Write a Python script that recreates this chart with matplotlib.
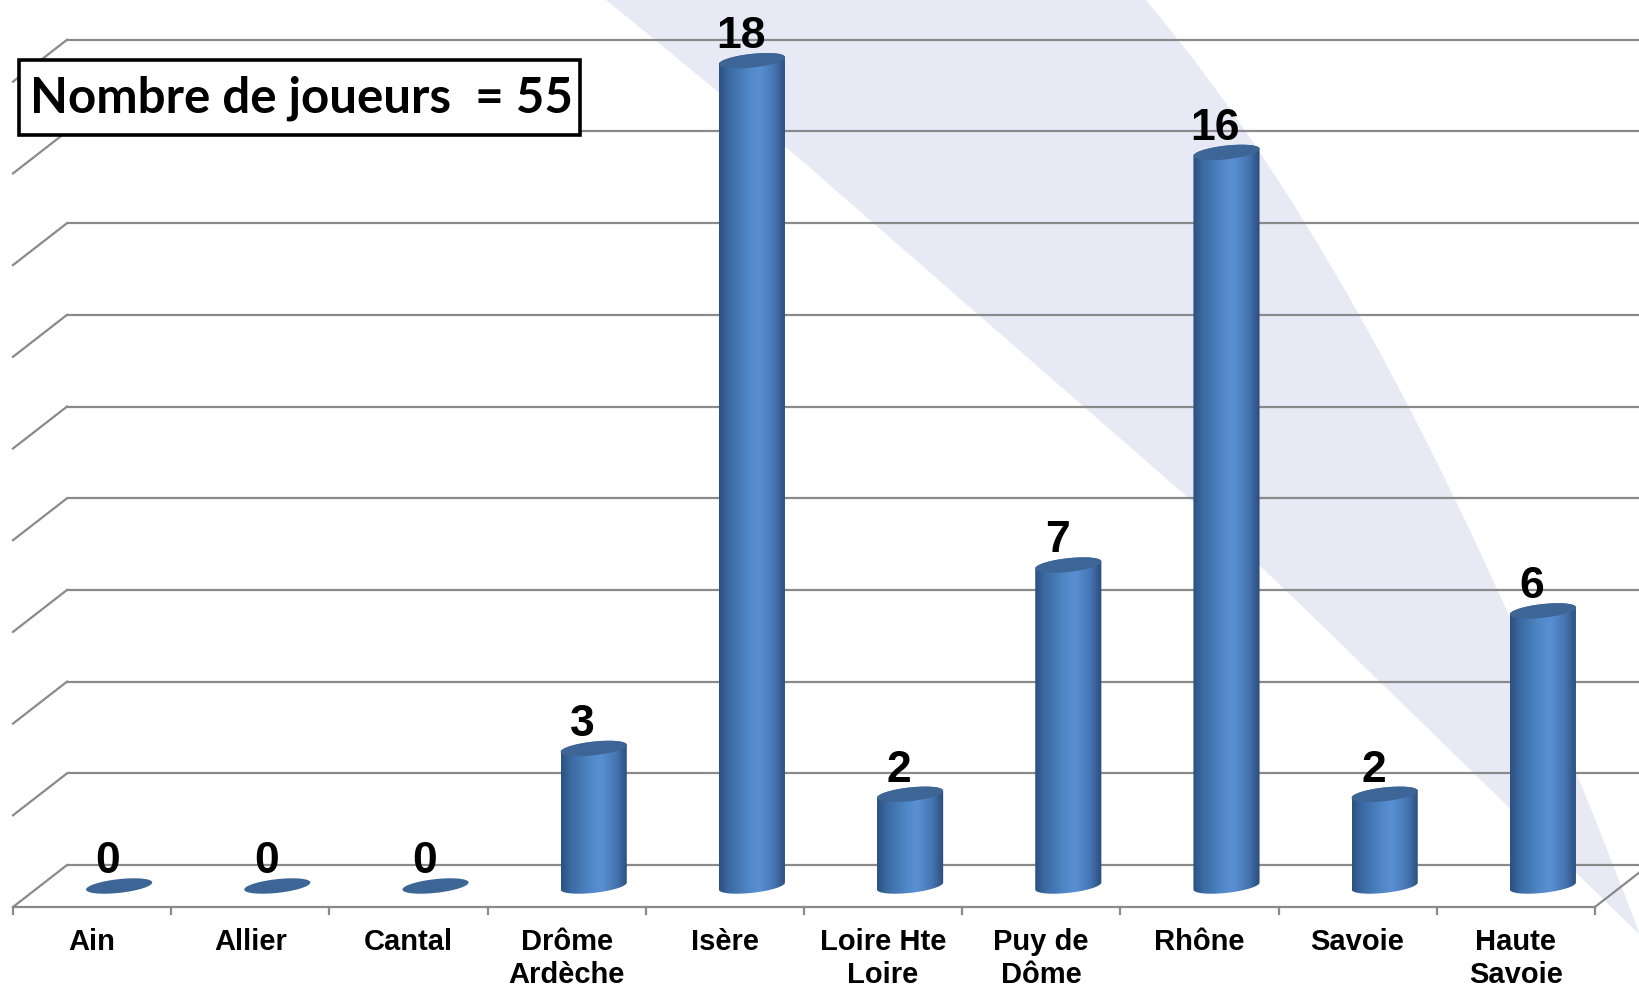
import matplotlib
matplotlib.use('Agg')
import matplotlib.pyplot as plt
import numpy as np
from matplotlib.colors import LinearSegmentedColormap
from matplotlib.patches import Polygon, Rectangle, PathPatch
from matplotlib.path import Path

# data
departements = ['Ain', 'Allier', 'Cantal', 'Drôme\nArdèche', 'Isère',
                'Loire Hte\nLoire', 'Puy de\nDôme', 'Rhône', 'Savoie',
                'Haute\nSavoie']
joueurs = [0, 0, 0, 3, 18, 2, 7, 16, 2, 6]
grid_values = [0, 2, 4, 6, 8, 10, 12, 14, 16, 18]
total_label = 'Nombre de joueurs  = 55'

W, H = 1640, 987
fig = plt.figure(figsize=(W / 100, H / 100), dpi=100)
ax = fig.add_axes([0, 0, 1, 1])
ax.axis('off')

# pseudo 3d geometry (category units / value units)
depth_x, depth_y = 0.171, 0.458     # half depth offset, front->mid->back
rad_a, rad_b, tilt = 0.209, 0.15, 0.366
grid_col = '#8a8a8a'
n = len(departements)


def px(x, y):
    # pixel position (top-left origin) -> axes fraction
    return (x / W, 1 - y / H)


# lavender light band in the background (decoration)
verts = [px(605, 0), px(800, 160), px(1193, 503), px(1300, 605),
         px(1640, 936), px(1400, 300), px(1145, 0), px(605, 0)]
codes = [Path.MOVETO, Path.LINETO, Path.LINETO, Path.LINETO,
         Path.LINETO, Path.CURVE3, Path.CURVE3, Path.CLOSEPOLY]
ax.add_patch(PathPatch(Path(verts, codes), transform=ax.transAxes,
                       facecolor='#e7e9f5', edgecolor='none', zorder=0))

# back wall + left wall gridlines
x_front = -0.5
x_back = x_front + 2 * depth_x
for g in grid_values:
    ax.plot([x_back, n + 1], [g + depth_y, g + depth_y], color=grid_col,
            lw=1.6, zorder=1, solid_capstyle='butt')
    ax.plot([x_front, x_back], [g - depth_y, g + depth_y], color=grid_col,
            lw=1.6, zorder=1)

# floor front edge, right floor edge and ticks
ax.plot([x_front, n - 0.5], [-depth_y, -depth_y], color=grid_col, lw=1.6,
        zorder=1)
ax.plot([n - 0.5, n - 0.5 + 2 * depth_x], [-depth_y, depth_y],
        color=grid_col, lw=1.6, zorder=1)
for k in range(n + 1):
    ax.plot([k - 0.5, k - 0.5], [-depth_y, -depth_y - 0.16],
            color=grid_col, lw=1.6, zorder=1)

cyl_cmap = LinearSegmentedColormap.from_list(
    'cyl', [(0.0, '#2c5080'), (0.15, '#3b6aa3'), (0.45, '#5088c8'),
            (0.6, '#5a90d2'), (0.82, '#4676b4'), (1.0, '#2b4c7a')])
grad = np.linspace(0, 1, 256).reshape(1, -1)
t_low = np.linspace(np.pi, 2 * np.pi, 60)
t_up = np.linspace(0, np.pi, 60)
t_all = np.linspace(0, 2 * np.pi, 120)


def ellipse(xc, yc, t):
    ca = rad_a * np.cos(t)
    return xc + ca, yc + rad_b * np.sin(t) + tilt * ca


for i, v in enumerate(joueurs):
    xc = i + depth_x
    if v > 0:
        bx, by = ellipse(xc, 0, t_low)
        tx, ty = ellipse(xc, v, t_up)
        body = Polygon(np.column_stack([np.r_[bx, tx], np.r_[by, ty]]),
                       closed=True, facecolor='none', edgecolor='none')
        ax.add_patch(body)
        im = ax.imshow(grad, cmap=cyl_cmap, aspect='auto',
                       extent=[xc - rad_a, xc + rad_a, -1, v + 1],
                       zorder=3, interpolation='bilinear')
        im.set_clip_path(body)
    ex, ey = ellipse(xc, v, t_all)
    ax.fill(ex, ey, color='#3d6595', zorder=4, lw=0)
    ax.text(xc - 0.07, v + 0.3, str(v), ha='center', va='baseline',
            fontsize=32, fontweight='bold', family='Liberation Sans',
            zorder=5)

for i, name in enumerate(departements):
    ax.text(i, -0.9, name, ha='center', va='top', fontsize=21,
            fontweight='bold', family='Liberation Sans', linespacing=1.2)

# title box
x0, y0 = px(19, 136)
x1, y1 = px(580, 61)
ax.add_patch(Rectangle((x0, y0), x1 - x0, y1 - y0, transform=ax.transAxes,
                       facecolor='white', edgecolor='black', lw=2.6,
                       zorder=6))
ax.text(px(30, 0)[0], (y0 + y1) / 2, total_label, transform=ax.transAxes,
        ha='left', va='center', fontsize=35.5, fontweight='bold',
        family='Lato', zorder=7)

ax.set_xlim(-0.582, 9.785)
ax.set_ylim(-2.181, 19.346)

fig.savefig('out.png', dpi=100, facecolor='white')
